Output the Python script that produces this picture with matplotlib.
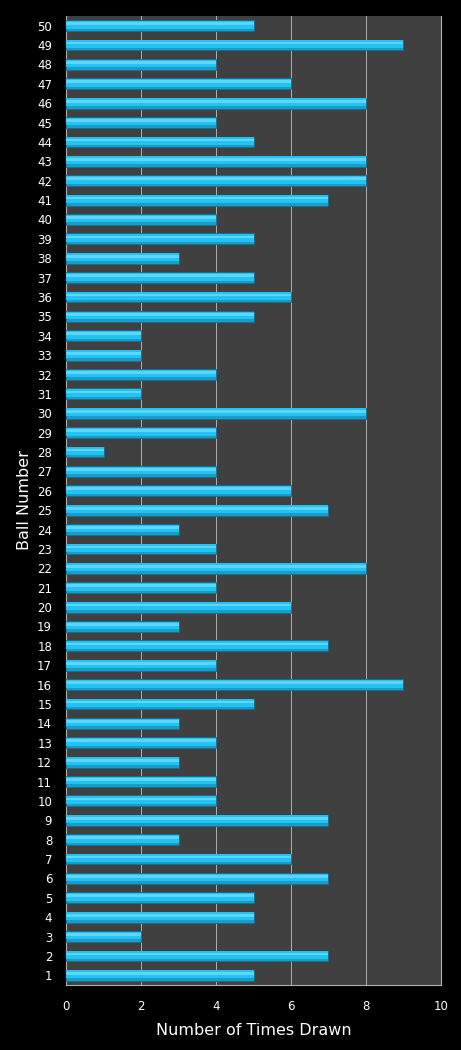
import matplotlib
matplotlib.use("Agg")
import matplotlib.pyplot as plt

balls = list(range(1, 51))
counts = [5, 7, 2, 5, 5, 7, 6, 3, 7, 4,
          4, 3, 4, 3, 5, 9, 4, 7, 3, 6,
          4, 8, 4, 3, 7, 6, 4, 1, 4, 8,
          2, 4, 2, 2, 5, 6, 5, 3, 5, 4,
          7, 8, 8, 5, 4, 8, 6, 4, 9, 5]
xticks = [0, 2, 4, 6, 8, 10]

fig = plt.figure(figsize=(4.61, 10.5), dpi=100, facecolor="black")
ax = fig.add_axes([0.1432, 0.0619, 0.8134, 0.9229])
ax.set_facecolor("#404040")

ax.barh(balls, counts, height=0.56, color="#1a9cc8", edgecolor="#136f8f", linewidth=0.6, zorder=3)
ax.barh([b + 0.05 for b in balls], counts, height=0.40, color="#22c2f2", linewidth=0, zorder=4)
ax.barh([b + 0.1 for b in balls], counts, height=0.14, color="#5cd6fa", linewidth=0, zorder=5)

ax.set_xlim(0, 10)
ax.set_ylim(0.5, 50.5)
ax.set_xticks(xticks)
ax.set_yticks(balls)
ax.set_yticklabels([str(b) for b in balls])
ax.xaxis.grid(True, color="#b0b0b0", linewidth=0.7, zorder=1)
ax.set_axisbelow(True)
ax.tick_params(colors="white", labelsize=8.5, length=0)
ax.tick_params(axis="y", pad=10)
ax.tick_params(axis="x", pad=11)
for s in ["left", "right", "bottom"]:
    ax.spines[s].set_color("#b0b0b0")
    ax.spines[s].set_linewidth(0.8)
ax.spines["top"].set_visible(False)
ax.set_xlabel("Number of Times Drawn", color="white", fontsize=11.5, labelpad=7)
ax.set_ylabel("Ball Number", color="white", fontsize=11.5, labelpad=4)

fig.savefig("out.png", dpi=100, facecolor="black")
